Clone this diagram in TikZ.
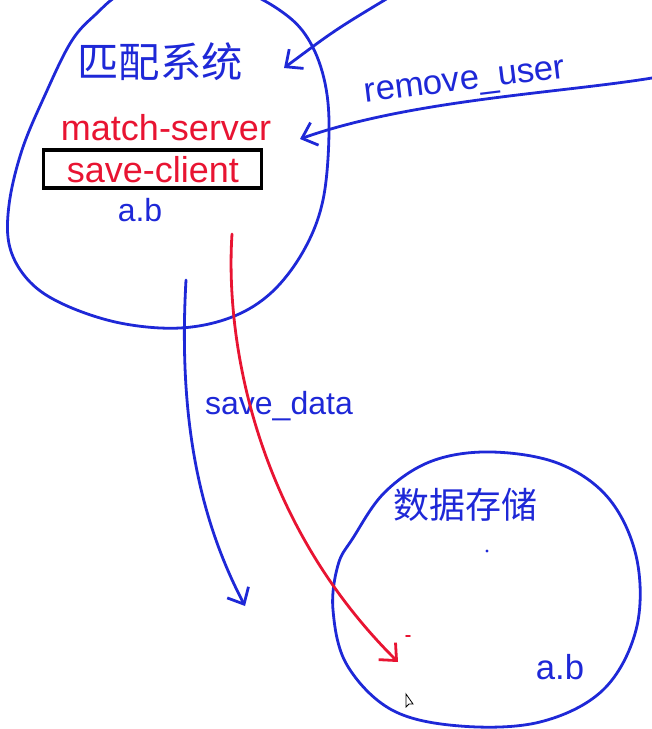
\documentclass[tikz,border=0pt]{standalone}
\usepackage{fontspec}
\setmainfont{Liberation Sans}
\newfontfamily\cjk{Noto Sans CJK SC}
\usetikzlibrary{arrows.meta}
\definecolor{pen}{RGB}{30,40,215}
\definecolor{redpen}{RGB}{232,20,50}
\tikzset{
  stroke/.style={draw=pen, line width=2.1pt, line cap=round, line join=round},
  rstroke/.style={draw=redpen, line width=2.1pt, line cap=round, line join=round},
  barb/.style={-{Straight Barb[length=10pt,width=18pt,line width=2.1pt]}},
  bluetxt/.style={text=pen, inner sep=0pt},
  redtxt/.style={text=redpen, inner sep=0pt},
  cjktxt/.style={text=pen, inner sep=0pt},
}
\begin{document}
\begin{tikzpicture}[x=0.75pt,y=-0.75pt]
\useasboundingbox (0,0) rectangle (652,729);
% big circle (matching system)
\draw[stroke] plot[smooth cycle, tension=0.6] coordinates {
  (71,42) (45,95) (22,150) (9,205) (10,248) (30,282) (65,305) (120,323)
  (180,328) (232,317) (272,292) (304,250) (323,200) (329,133) (325,83)
  (310,42) (285,14) (240,-10) (180,-20) (125,-8) (95,15)};
% second circle (data storage)
\draw[stroke] plot[smooth cycle, tension=0.6] coordinates {
  (353,538) (385,492) (432,461) (492,452) (560,464) (610,500) (637,560)
  (636,630) (603,690) (540,722) (460,726) (392,710) (347,665) (333,610) (338,565)};

% texts
\node[cjktxt, font=\cjk\fontsize{31}{31}\selectfont] (sys) at (160,62) {匹配系统};
\node[redtxt, font=\fontsize{27}{27}\selectfont] (ms) at (166,128) {match-server};
\node[draw=black, line width=2.4pt, inner sep=0pt,
      minimum width=164pt, minimum height=28.5pt] (box) at (152.5,169) {};
\node[redtxt, font=\fontsize{27}{27}\selectfont] (sc) at (153,170) {save-client};
\node[bluetxt, font=\fontsize{24}{24}\selectfont] (ab1) at (140,210) {a.b};
\node[bluetxt, font=\fontsize{26}{26}\selectfont, rotate=7, anchor=base] (ru) at (466,90) {remove\_user};
\node[bluetxt, font=\fontsize{24}{24}\selectfont] (sd) at (279,406) {save\_data};
\node[cjktxt, font=\cjk\fontsize{27}{27}\selectfont] (ds) at (465,505) {数据存储};
\node[bluetxt, font=\fontsize{26}{26}\selectfont] (ab2) at (560,667) {a.b};

% connectors
\coordinate (a1s) at (388,-2);
\coordinate (a1e) at (284,68);
\draw[stroke, barb] (a1s) .. controls (335,30) .. (a1e);

\coordinate (a2s) at (652,78);
\coordinate (a2e) at (300,139);
\draw[stroke, barb] (a2s) .. controls (560,93) and (410,100) .. (a2e);

\coordinate (a3s) at (186,280);
\coordinate (a3e) at (245,606);
\draw[stroke, barb] (a3s) .. controls (178,420) and (200,520) .. (a3e);

\coordinate (a4s) at (232,234);
\coordinate (a4e) at (398,662);
\draw[rstroke, barb] (a4s) .. controls (225,340) and (255,520) .. (a4e);

% small marks
\fill[pen] (487,551) circle (1.6);
\draw[rstroke, line width=1.2pt] (406,636) -- (410,636);
\draw[black, line width=0.6pt, fill=white] (406,694) -- (406,707) -- (409,704) -- (413,704) -- cycle;
\end{tikzpicture}
\end{document}
